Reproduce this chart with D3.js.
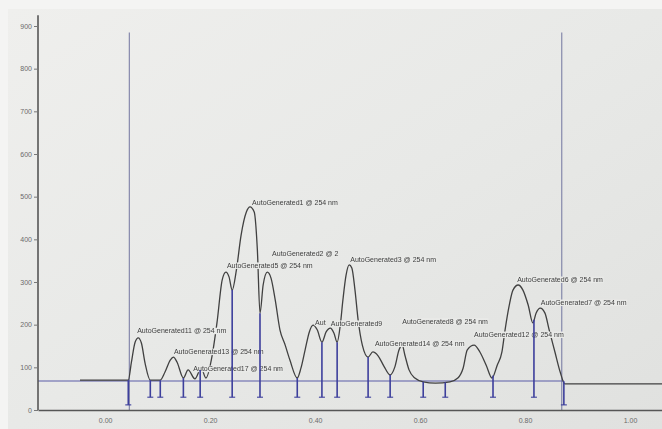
<!DOCTYPE html>
<html>
<head>
<meta charset="utf-8">
<script src="https://cdn.jsdelivr.net/npm/d3@7"></script>
<style>
  html, body { margin: 0; padding: 0; background: #e7e8e6; }
  svg { display: block; }
</style>
</head>
<body>
<svg id="chart" width="662" height="429"></svg>
<script>
// Chromatogram trace at 254 nm: retention time (min) and detector response
const traceTime = [-0.048, 0.044, 0.050, 0.057, 0.063, 0.069, 0.076, 0.086, 0.105, 0.114, 0.124, 0.130,
  0.137, 0.149, 0.158, 0.171, 0.183, 0.192, 0.204, 0.213, 0.223, 0.230, 0.236, 0.242, 0.250, 0.259,
  0.269, 0.276, 0.284, 0.290, 0.295, 0.301, 0.309, 0.316, 0.324, 0.333, 0.343, 0.352, 0.366, 0.373,
  0.381, 0.389, 0.396, 0.404, 0.413, 0.421, 0.429, 0.436, 0.442, 0.448, 0.453, 0.459, 0.465, 0.470,
  0.476, 0.482, 0.490, 0.501, 0.510, 0.520, 0.531, 0.543, 0.552, 0.560, 0.566, 0.571, 0.579, 0.590,
  0.606, 0.629, 0.657, 0.672, 0.682, 0.690, 0.703, 0.714, 0.726, 0.737, 0.747, 0.756, 0.762, 0.770,
  0.777, 0.787, 0.796, 0.806, 0.815, 0.821, 0.829, 0.838, 0.846, 0.857, 0.867, 0.876, 1.061];
const traceValue = [70, 70, 112, 159, 169, 157, 110, 70, 70, 89, 117, 124,
  112, 75, 94, 73, 98, 75, 129, 204, 305, 323, 312, 281, 328, 410,
  464, 476, 464, 375, 227, 293, 323, 309, 258, 188, 152, 117, 75, 98,
  141, 183, 199, 188, 159, 183, 192, 180, 159, 199, 258, 316, 340, 333,
  281, 211, 152, 124, 136, 127, 103, 82, 101, 141, 152, 129, 94, 75,
  66, 63, 66, 75, 98, 141, 152, 136, 105, 75, 105, 136, 188, 246,
  281, 293, 281, 246, 204, 227, 239, 227, 188, 136, 89, 61, 61];

// Integration baseline and event markers
const baselineStart = -0.128, baselineEnd = 0.874, baselineValue = 68;
const eventTimes = [0.046, 0.870];

// Peak start/end drop lines
const dropTimes = [0.044, 0.086, 0.105, 0.149, 0.181, 0.242, 0.295, 0.366, 0.413, 0.442,
  0.501, 0.543, 0.606, 0.648, 0.739, 0.817, 0.874];
const dropEnds = [12, 30, 30, 30, 30, 30, 30, 30, 30, 30, 30, 30, 30, 30, 30, 30, 12];

// Peak labels as printed (crowded labels are cut short by their neighbours)
const labelText = ["AutoGenerated11 @ 254 nm", "AutoGenerated13 @ 254 nm", "AutoGenerated17 @ 254 nm",
  "AutoGenerated1 @ 254 nm", "AutoGenerated2 @ 2", "AutoGenerated5 @ 254 nm",
  "AutoGenerated3 @ 254 nm", "Aut", "AutoGenerated9",
  "AutoGenerated14 @ 254 nm", "AutoGenerated8 @ 254 nm", "AutoGenerated6 @ 254 nm",
  "AutoGenerated7 @ 254 nm", "AutoGenerated12 @ 254 nm"];
const labelTime = [0.061, 0.131, 0.168, 0.280, 0.318, 0.232, 0.467, 0.400, 0.430, 0.514, 0.566, 0.785, 0.830, 0.703];
const labelValue = [180, 131, 91, 480, 361, 333, 347, 199, 197, 150, 202, 300, 246, 171];

// Axis ticks
const yTicks = [0, 100, 200, 300, 400, 500, 600, 700, 800, 900];
const xTicks = [0.00, 0.20, 0.40, 0.60, 0.80, 1.00];

const svg = d3.select("#chart");
const W = 662, H = 429;

// Paper background with a soft light fall-off
const defs = svg.append("defs");
const grad = defs.append("linearGradient").attr("id", "paper")
  .attr("x1", "0").attr("y1", "0").attr("x2", "1").attr("y2", "1");
grad.append("stop").attr("offset", "0").attr("stop-color", "#efefed");
grad.append("stop").attr("offset", "0.5").attr("stop-color", "#e8e9e7");
grad.append("stop").attr("offset", "1").attr("stop-color", "#e0e1df");
svg.append("rect").attr("width", W).attr("height", H).attr("fill", "#f4f4f3");
svg.append("rect").attr("x", 8).attr("y", 9).attr("width", W - 8).attr("height", H - 9).attr("fill", "url(#paper)");

const x = d3.scaleLinear().domain([-0.128, 1.061]).range([38, 662]);
const y = d3.scaleLinear().domain([0, 900]).range([410, 26]);

const traceData = traceTime.map((t, i) => ({ t, v: traceValue[i] }));
const bis = d3.bisector(d => d.t).left;
function traceAt(t) {
  const i = Math.max(1, Math.min(traceData.length - 1, bis(traceData, t)));
  const a = traceData[i - 1], b = traceData[i];
  return a.v + (b.v - a.v) * (t - a.t) / (b.t - a.t);
}

const blue = "#3d3f9c";
const ink = "#3c3c3c";

// Event marker lines
svg.append("g").selectAll("line").data(eventTimes).join("line")
  .attr("x1", d => x(d)).attr("x2", d => x(d))
  .attr("y1", y(885)).attr("y2", y(0))
  .attr("stroke", "#7c7fa6").attr("stroke-width", 1.1);

// Integration baseline
svg.append("line")
  .attr("x1", x(baselineStart)).attr("x2", x(baselineEnd))
  .attr("y1", y(baselineValue)).attr("y2", y(baselineValue))
  .attr("stroke", "#5a5ca8").attr("stroke-width", 1.1);

// Axes (slight group opacity keeps the small text grey-scale antialiased)
const yAxis = svg.append("g").attr("transform", `translate(${x(-0.128)},0)`).attr("opacity", 0.99)
  .call(d3.axisLeft(y).tickValues(yTicks).tickSize(4).tickSizeOuter(0).tickPadding(2));
const xAxis = svg.append("g").attr("transform", `translate(0,${y(0)})`).attr("opacity", 0.99)
  .call(d3.axisBottom(x).tickValues(xTicks).tickFormat(d3.format(".2f")).tickSize(0).tickPadding(8));
[yAxis, xAxis].forEach(g => {
  g.select(".domain").attr("stroke", "#555").attr("stroke-width", 1.6);
  g.selectAll(".tick line").attr("stroke", "#777");
  g.selectAll(".tick text").attr("fill", "#6a6a6a")
    .style("font-family", "Liberation Sans, Arial, sans-serif").style("font-size", "7px");
});
yAxis.select(".domain").attr("d", `M0,${y(0)}V${y(925)}`);

// Trace
const line = d3.line().x(d => x(d.t)).y(d => y(d.v)).curve(d3.curveMonotoneX);
svg.append("path").datum(traceData)
  .attr("d", line).attr("fill", "none")
  .attr("stroke", "#404040").attr("stroke-width", 1.3);

// Peak labels with background boxes
const labels = svg.append("g").attr("opacity", 0.99)
  .style("font-family", "Liberation Sans, Arial, sans-serif").style("font-size", "7px");
labelText.forEach((txt, i) => {
  const g = labels.append("g").attr("transform", `translate(${x(labelTime[i])},${y(labelValue[i])})`);
  const tx = g.append("text").attr("fill", ink).text(txt);
  const bb = tx.node().getBBox();
  g.insert("rect", "text")
    .attr("x", bb.x - 0.5).attr("y", bb.y + 0.5)
    .attr("width", bb.width + 1).attr("height", bb.height - 0.5)
    .attr("fill", "#e9eae8");
});

// Drop lines with feet
const drops = svg.append("g").attr("stroke", blue).attr("stroke-width", 1.6);
dropTimes.forEach((t, i) => {
  const top = traceAt(t);
  drops.append("line")
    .attr("x1", x(t)).attr("x2", x(t))
    .attr("y1", y(top)).attr("y2", y(dropEnds[i]));
  drops.append("line")
    .attr("x1", x(t) - 3).attr("x2", x(t) + 3)
    .attr("y1", y(dropEnds[i])).attr("y2", y(dropEnds[i]))
    .attr("stroke-width", 1.1);
});
</script>
</body>
</html>
